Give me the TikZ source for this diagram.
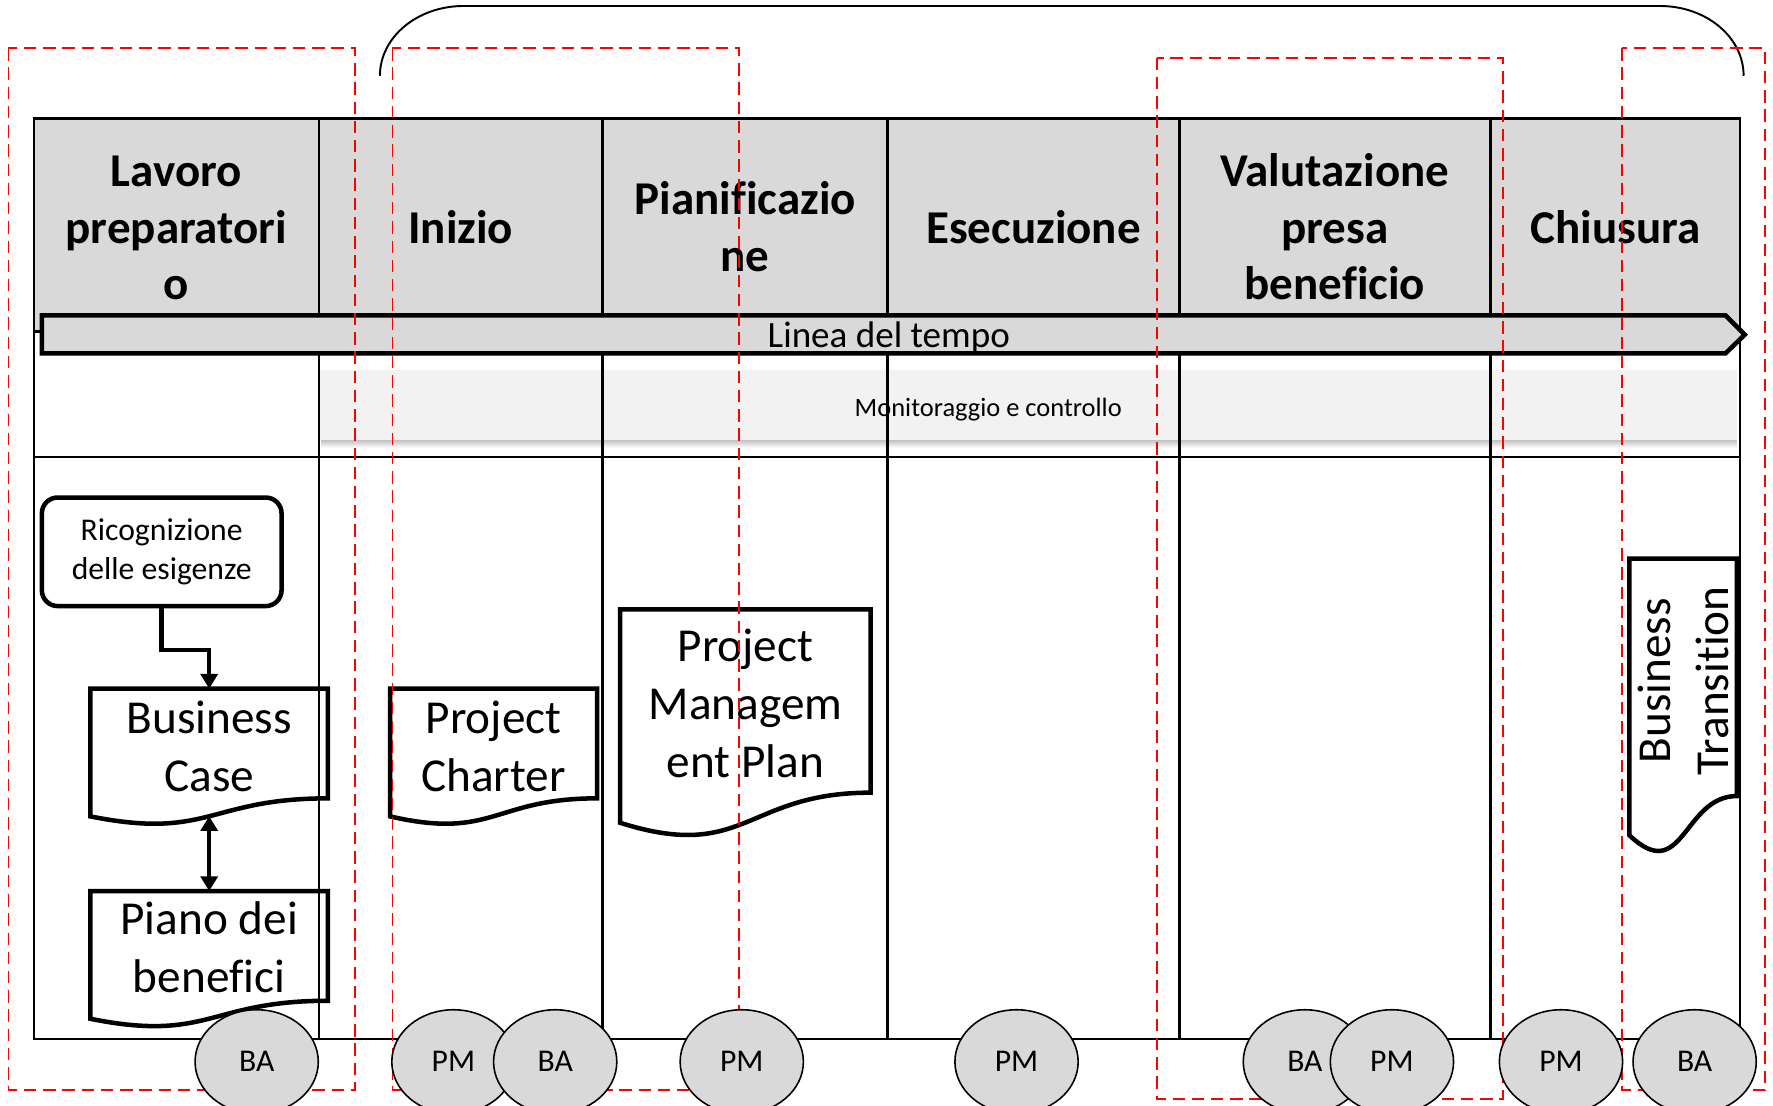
\documentclass[tikz,border=0pt]{standalone}
\usepackage{fontspec}
\setmainfont{Carlito}[Ligatures=NoCommon]
\usetikzlibrary{arrows.meta,shapes.geometric}
\definecolor{hdr}{HTML}{D9D9D9}
\definecolor{band}{HTML}{F2F2F2}
\definecolor{dashred}{HTML}{FF0000}
\newcommand\docshape[7]{%
  \draw[docline] (#2,#3) -- ({#2+#4},#3) -- ({#2+#4},{#3+0.802*#5})
    .. controls ({#2+0.5*#4},{#3+0.802*#5}) and ({#2+0.5*#4},{#3+1.1075*#5}) .. (#2,{#3+0.934*#5}) -- cycle;
  \coordinate (#1-top) at ({#2+0.5*#4},#3);
  \coordinate (#1-bot) at ({#2+0.5*#4},{#3+0.933*#5});
  \node[doctext] (#1) at ({#2+0.5*#4},#6) {#7};
}
\begin{document}
\begin{tikzpicture}[x=0.5pt,y=-0.5pt,
  tbl/.style={line width=1.1pt},
  hdrtext/.style={font=\bfseries\fontsize{20.8pt}{25pt}\selectfont, align=center, inner sep=0pt},
  docline/.style={line width=2pt},
  doctext/.style={font=\fontsize{20.9pt}{25.5pt}\selectfont, align=center, inner sep=0pt},
  conn/.style={line width=2pt},
  reddash/.style={draw=dashred, line width=0.75pt, dash pattern=on 5.5pt off 3pt},
  role/.style={ellipse, draw=black, line width=0.7pt, fill=hdr, minimum width=54.5pt, minimum height=46pt, inner sep=0pt, font=\fontsize{14pt}{17pt}\selectfont}
]
\useasboundingbox (0,0) rectangle (1568,978);

% header fill
\fill[hdr] (30,104.6) rectangle (1539,293);
% monitoring band with soft shadow
\shade[top color=black!28, bottom color=white] (284,388) rectangle (1536,396);
\fill[band] (282,327) rectangle (1536,389);
\node[font=\fontsize{11.7pt}{14pt}\selectfont, anchor=base, inner sep=0pt] (mon) at (874,368) {Monitoraggio e controllo};

% table grid
\draw[tbl] (30,104.6) rectangle (1539,919);
\foreach \x in {282,533,785,1043,1318} \draw[tbl] (\x,104.6) -- (\x,919);
\draw[tbl] (30,293) -- (1539,293);
\draw[tbl] (30,404) -- (1539,404);

% headers
\node[hdrtext] (h1) at (156,205) {Lavoro\strut\\preparatori\strut\\o\strut};
\node[hdrtext] (h2) at (407.5,205) {Inizio\strut};
\node[hdrtext] (h3) at (659,205) {Pianificazio\strut\\ne\strut};
\node[hdrtext] (h4) at (914,205) {Esecuzione\strut};
\node[hdrtext] (h5) at (1180.5,205) {Valutazione\strut\\presa\strut\\beneficio\strut};
\node[hdrtext] (h6) at (1428.5,205) {Chiusura\strut};

% timeline
\draw[line width=2pt, fill=hdr] (37,279) -- (1526,279) -- (1543,296) -- (1526,312.5) -- (37,312.5) -- cycle;
\node[font=\fontsize{16.4pt}{20pt}\selectfont, anchor=base, inner sep=0pt] (tl) at (786,307.5) {Linea del tempo};

% documents
\node[draw, line width=2pt, rounded corners=7pt, minimum width=106pt, minimum height=48pt, inner sep=0pt, align=center, font=\fontsize{14pt}{17pt}\selectfont] (ric) at (143,488) {Ricognizione\\delle esigenze};
\docshape{bc}{80}{609}{210}{121}{664}{Business\strut\\Case\strut}
\docshape{pb}{80}{788}{210}{121}{842}{Piano dei\strut\\benefici\strut}
\docshape{pc}{345}{609}{183}{121}{664}{Project\strut\\Charter\strut}
\docshape{pmp}{548.5}{539}{221.5}{202}{626}{Project\strut\\Managem\strut\\ent Plan\strut}
\draw[docline] (1441,494) -- (1536,494) -- (1536,704) .. controls (1488.5,704) and (1488.5,784) .. (1441,738.7) -- cycle;
\node[doctext, rotate=90] (bt) at (1493,602) {Business\strut\\Transition\strut};

% connectors
\draw[conn,-{Triangle[length=6.5pt,width=7.5pt]}] (ric.south) -- ++(0,37) -| (bc-top);
\draw[conn,{Triangle[length=6.5pt,width=7.5pt]}-{Triangle[length=6.5pt,width=7.5pt]}] (bc-bot) -- (pb-top);

% top bracket
\draw[line width=0.85pt] (336,67) .. controls (336,32.8) and (369.1,5.3) .. (410,5.3) -- (1468,5.3) .. controls (1508.9,5.3) and (1542,32.8) .. (1542,67);

% red dashed boxes
\draw[reddash] (7.5,42.7) rectangle (314,964);
\draw[reddash] (347,42.7) rectangle (653.6,964);
\draw[reddash] (1023,51) rectangle (1329,972);
\draw[reddash] (1434.5,42.7) rectangle (1561,964);

% roles
\node[role] (r1) at (227,939) {BA};
\node[role] (r2) at (401,939) {PM};
\node[role] (r3) at (491,939) {BA};
\node[role] (r4) at (656,939) {PM};
\node[role] (r5) at (899,939) {PM};
\node[role] (r6) at (1154,939) {BA};
\node[role] (r7) at (1231,939) {PM};
\node[role] (r8) at (1380.5,939) {PM};
\node[role] (r9) at (1498.7,939) {BA};
\end{tikzpicture}
\end{document}
